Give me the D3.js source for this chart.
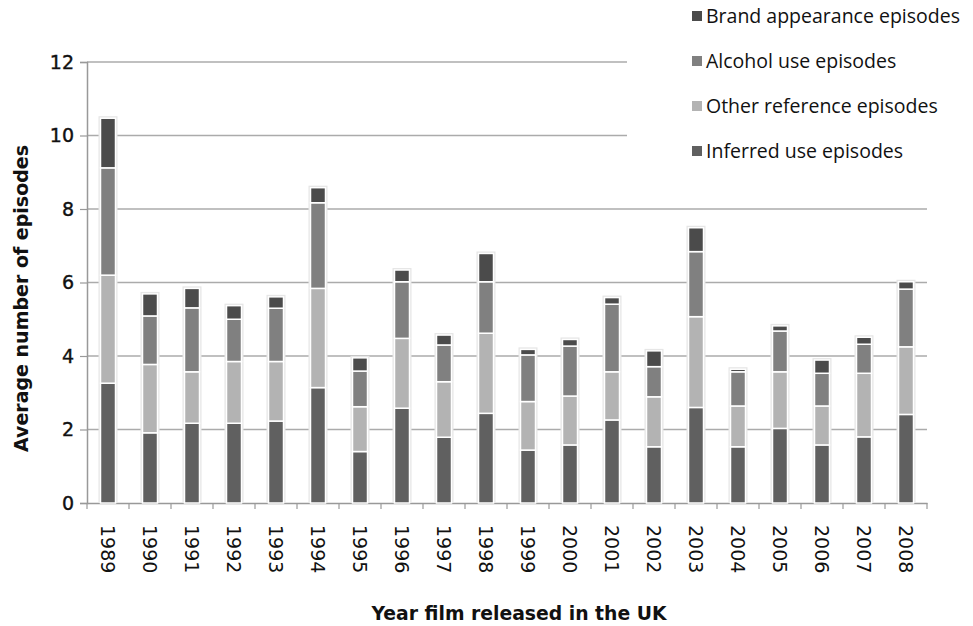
<!DOCTYPE html>
<html>
<head>
<meta charset="utf-8">
<title>Average number of episodes by year</title>
<style>
    body { margin: 0; padding: 0; background: white; }
    .tick text { fill: #111; }
</style>
</head>
<body>
<div id="chart"></div>
<script src="https://d3js.org/d3.v7.min.js"></script>
<script>
    var years = ["1989", "1990", "1991", "1992", "1993", "1994", "1995", "1996", "1997", "1998",
                 "1999", "2000", "2001", "2002", "2003", "2004", "2005", "2006", "2007", "2008"];

    var inferred  = [3.26, 1.91, 2.17, 2.17, 2.23, 3.14, 1.40, 2.58, 1.79, 2.44,
                     1.44, 1.58, 2.26, 1.53, 2.60, 1.53, 2.03, 1.58, 1.80, 2.41];
    var other     = [2.94, 1.86, 1.40, 1.68, 1.62, 2.70, 1.22, 1.90, 1.51, 2.18,
                     1.32, 1.33, 1.31, 1.36, 2.47, 1.11, 1.54, 1.06, 1.73, 1.84];
    var alcohol   = [2.92, 1.32, 1.74, 1.15, 1.45, 2.33, 0.97, 1.54, 1.00, 1.40,
                     1.27, 1.36, 1.84, 0.82, 1.77, 0.93, 1.11, 0.89, 0.79, 1.57];
    var brand     = [1.35, 0.60, 0.53, 0.37, 0.31, 0.41, 0.36, 0.32, 0.27, 0.77,
                     0.15, 0.18, 0.18, 0.43, 0.65, 0.07, 0.14, 0.36, 0.19, 0.20];

    var seriesNames = ["Inferred use episodes", "Other reference  episodes", "Alcohol use episodes", "Brand appearance episodes"];
    var seriesKeys = ["inferred", "other", "alcohol", "brand"];
    var colors = ["#606060", "#b3b3b3", "#808080", "#4b4b4b"];
    var yTicks = [0, 2, 4, 6, 8, 10, 12];

    var width = 973, height = 626;
    var margin = { top: 62, left: 87, right: 46, bottom: 123 };
    var innerW = width - margin.left - margin.right,
        innerH = height - margin.top - margin.bottom;

    var rows = years.map(function (y, i) {
        return { year: y, inferred: inferred[i], other: other[i], alcohol: alcohol[i], brand: brand[i] };
    });

    var stack = d3.stack().keys(seriesKeys);
    var stacked = stack(rows);

    var svg = d3.select("#chart").append("svg")
        .attr("width", width)
        .attr("height", height);

    var g = svg.append("g")
        .attr("transform", "translate(" + margin.left + "," + margin.top + ")");

    var x = d3.scaleBand()
        .domain(years)
        .range([0, innerW]);

    var y = d3.scaleLinear()
        .domain([0, 12])
        .range([innerH, 0]);

    // gridlines
    g.append("g")
        .selectAll("line")
        .data(yTicks.filter(function (d) { return d > 0; }))
        .enter()
        .append("line")
        .attr("x1", 0)
        .attr("x2", innerW)
        .attr("y1", function (d) { return y(d); })
        .attr("y2", function (d) { return y(d); })
        .attr("stroke", "#ababab")
        .attr("stroke-width", 1.5);

    // legend background hides the top of the gridlines
    svg.append("rect")
        .attr("x", 627)
        .attr("y", 0)
        .attr("width", width - 627)
        .attr("height", 172)
        .attr("fill", "white");

    // y axis
    var yAxis = g.append("g")
        .call(d3.axisLeft(y).tickValues(yTicks).tickSize(7).tickPadding(6));
    yAxis.select(".domain").attr("stroke", "#999").attr("stroke-width", 1.5);
    yAxis.selectAll(".tick line").attr("stroke", "#999").attr("stroke-width", 1.2);
    yAxis.selectAll(".tick text")
        .attr("font-family", "DejaVu Sans, Verdana, sans-serif")
        .attr("font-size", 19)
        .attr("stroke", "#111")
        .attr("stroke-width", 0.4);

    // x axis
    var xAxis = g.append("g")
        .attr("transform", "translate(0," + innerH + ")")
        .call(d3.axisBottom(x).tickSize(0).tickPadding(0));
    xAxis.select(".domain").attr("stroke", "#999").attr("stroke-width", 1.5);
    xAxis.selectAll(".tick text")
        .attr("font-family", "DejaVu Sans, Verdana, sans-serif")
        .attr("font-size", 19)
        .attr("transform", "translate(0,22) rotate(90)")
        .attr("text-anchor", "start")
        .attr("x", 0)
        .attr("y", 0)
        .attr("dy", "0.36em");

    // band ticks
    g.append("g")
        .selectAll("line")
        .data(d3.range(years.length + 1))
        .enter()
        .append("line")
        .attr("x1", function (d) { return d * x.step(); })
        .attr("x2", function (d) { return d * x.step(); })
        .attr("y1", innerH)
        .attr("y2", innerH + 6)
        .attr("stroke", "#999")
        .attr("stroke-width", 1.2);

    var barW = 15;

    // soft halo around each bar
    g.append("g")
        .selectAll("rect")
        .data(rows)
        .enter()
        .append("rect")
        .attr("x", function (d) { return x(d.year) + x.bandwidth() / 2 - barW / 2 - 2; })
        .attr("y", function (d) { return y(d.inferred + d.other + d.alcohol + d.brand) - 2; })
        .attr("width", barW + 4)
        .attr("height", function (d) { return innerH - y(d.inferred + d.other + d.alcohol + d.brand) + 2; })
        .attr("fill", "#e6e6e6");

    g.append("g")
        .selectAll("g")
        .data(stacked)
        .enter()
        .append("g")
        .attr("fill", function (d, i) { return colors[i]; })
        .selectAll("rect")
        .data(function (d) { return d; })
        .enter()
        .append("rect")
        .attr("x", function (d) { return x(d.data.year) + x.bandwidth() / 2 - barW / 2; })
        .attr("y", function (d) { return y(d[1]); })
        .attr("width", barW)
        .attr("height", function (d) { return y(d[0]) - y(d[1]); })
        .attr("stroke", "white")
        .attr("stroke-width", 1.5);

    // axis titles
    svg.append("text")
        .attr("transform", "translate(28," + (margin.top + innerH / 2 + 16) + ") rotate(-90)")
        .attr("text-anchor", "middle")
        .attr("font-family", "DejaVu Sans, Verdana, sans-serif")
        .attr("font-weight", "bold")
        .attr("font-size", 19)
        .attr("fill", "#111")
        .text("Average number of episodes");

    svg.append("text")
        .attr("x", 519)
        .attr("y", 620)
        .attr("text-anchor", "middle")
        .attr("font-family", "DejaVu Sans, Verdana, sans-serif")
        .attr("font-weight", "bold")
        .attr("font-size", 18.8)
        .attr("fill", "#111")
        .text("Year film released in the UK");

    // legend, top entry is the top of the stack
    var legendOrder = [3, 2, 1, 0];
    var legend = svg.append("g")
        .selectAll("g")
        .data(legendOrder)
        .enter()
        .append("g")
        .attr("transform", function (d, i) { return "translate(692," + (16 + i * 45) + ")"; });

    legend.append("rect")
        .attr("x", 0)
        .attr("y", -5)
        .attr("width", 10)
        .attr("height", 10)
        .attr("fill", function (d) { return colors[d]; });

    legend.append("text")
        .attr("x", 14)
        .attr("y", 0)
        .attr("dy", "0.35em")
        .attr("font-family", "Open Sans, sans-serif")
        .attr("font-size", 19.5)
        .attr("fill", "#111")
        .text(function (d) { return seriesNames[d]; });
</script>
</body>
</html>
